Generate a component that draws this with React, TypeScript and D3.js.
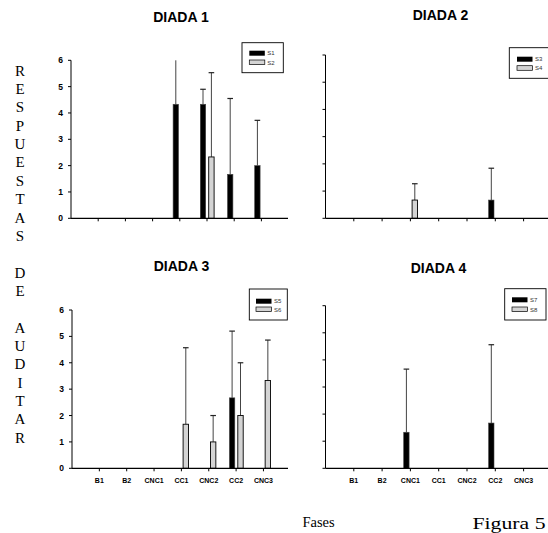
import React from "react";
import * as d3 from "d3";

const categories = ["B1", "B2", "CNC1", "CC1", "CNC2", "CC2", "CNC3"];
const yTicks = [0, 1, 2, 3, 4, 5, 6];

// Diada 1
const d1Black = [0, 0, 0, 4.33, 4.33, 1.67, 2.0];
const d1BlackErr = [0, 0, 0, 2.3, 0.57, 2.88, 1.72];
const d1Gray = [0, 0, 0, 0, 2.33, 0, 0];
const d1GrayErr = [0, 0, 0, 0, 3.2, 0, 0];
// Diada 2
const d2Black = [0, 0, 0, 0, 0, 0.67, 0];
const d2BlackErr = [0, 0, 0, 0, 0, 1.17, 0];
const d2Gray = [0, 0, 0.67, 0, 0, 0, 0];
const d2GrayErr = [0, 0, 0.6, 0, 0, 0, 0];
// Diada 3
const d3Black = [0, 0, 0, 0, 0, 2.67, 0];
const d3BlackErr = [0, 0, 0, 0, 0, 2.53, 0];
const d3Gray = [0, 0, 0, 1.67, 1.0, 2.0, 3.33];
const d3GrayErr = [0, 0, 0, 2.9, 1.0, 2.0, 1.53];
// Diada 4
const d4Black = [0, 0, 1.33, 0, 0, 1.67, 0];
const d4BlackErr = [0, 0, 2.33, 0, 0, 2.89, 0];
const d4Gray = [0, 0, 0, 0, 0, 0, 0];
const d4GrayErr = [0, 0, 0, 0, 0, 0, 0];

const titles = ["DIADA 1", "DIADA 2", "DIADA 3", "DIADA 4"];
const legendNames = [["S1", "S2"], ["S3", "S4"], ["S5", "S6"], ["S7", "S8"]];
const sideLabel = "RESPUESTAS DE AUDITAR";

const SANS = "'Liberation Sans', Arial, sans-serif";
const SERIF = "'Liberation Serif', 'Times New Roman', serif";

type Panel = {
  title: string;
  titleX: number;
  titleY: number;
  x0: number;
  x1: number;
  axisEnd: number;
  y0: number;
  y6: number;
  black: number[];
  blackErr: number[];
  gray: number[];
  grayErr: number[];
  yLabels: boolean;
  xLabels: boolean;
  legend: { x: number; y: number; w: number; h: number; sx: number; sy1: number; sy2: number };
  names: string[];
};

const panels: Panel[] = [
  {
    title: titles[0], titleX: 181, titleY: 21.5,
    x0: 71, x1: 71 + 8 * 27.2, axisEnd: 288, y0: 218.3, y6: 60.3,
    black: d1Black, blackErr: d1BlackErr, gray: d1Gray, grayErr: d1GrayErr,
    yLabels: true, xLabels: false,
    legend: { x: 242, y: 42.7, w: 41.3, h: 30, sx: 249.3, sy1: 50.7, sy2: 60 },
    names: legendNames[0],
  },
  {
    title: titles[1], titleX: 440.5, titleY: 20,
    x0: 325.5, x1: 325.5 + 8 * 28.3, axisEnd: 552, y0: 218.3, y6: 55,
    black: d2Black, blackErr: d2BlackErr, gray: d2Gray, grayErr: d2GrayErr,
    yLabels: false, xLabels: false,
    legend: { x: 509.3, y: 47.7, w: 45, h: 30.6, sx: 517, sy1: 56.7, sy2: 65.7 },
    names: legendNames[1],
  },
  {
    title: titles[2], titleX: 181.5, titleY: 271,
    x0: 72, x1: 72 + 8 * 27.35, axisEnd: 288, y0: 468.3, y6: 310,
    black: d3Black, blackErr: d3BlackErr, gray: d3Gray, grayErr: d3GrayErr,
    yLabels: true, xLabels: true,
    legend: { x: 249.3, y: 289, w: 38, h: 31, sx: 256, sy1: 298.7, sy2: 307 },
    names: legendNames[2],
  },
  {
    title: titles[3], titleX: 438.5, titleY: 272.5,
    x0: 325.5, x1: 325.5 + 8 * 28.3, axisEnd: 552, y0: 468.3, y6: 305.7,
    black: d4Black, blackErr: d4BlackErr, gray: d4Gray, grayErr: d4GrayErr,
    yLabels: false, xLabels: true,
    legend: { x: 504.7, y: 288.7, w: 41.3, h: 31.3, sx: 512, sy1: 297.3, sy2: 307 },
    names: legendNames[3],
  },
];

const BAR_W = 5.4;

function ChartPanel({ p }: { p: Panel }) {
  const x = d3.scaleLinear().domain([0, 8]).range([p.x0, p.x1]);
  const y = d3.scaleLinear().domain([0, 6]).range([p.y0, p.y6]);
  const idx = d3.range(categories.length);

  const errBar = (cx: number, v: number, e: number, key: string) => {
    if (v <= 0 && e <= 0) return null;
    const top = v + e;
    const clipped = top > 6;
    const yt = y(Math.min(top, 6));
    return (
      <g key={key}>
        <line x1={cx} x2={cx} y1={y(v)} y2={yt} stroke="#444" strokeWidth={1} />
        {!clipped && (
          <line x1={cx - 2.8} x2={cx + 2.8} y1={yt} y2={yt} stroke="#222" strokeWidth={1.2} />
        )}
      </g>
    );
  };

  return (
    <g>
      <text x={p.titleX} y={p.titleY} textAnchor="middle" fontFamily={SANS} fontWeight="bold" fontSize={14}>
        {p.title}
      </text>
      {idx.map((i) => {
        const t = x(i + 1);
        return (
          <g key={"e" + i}>
            {errBar(t - 6.7 + BAR_W / 2, p.black[i], p.blackErr[i], "eb" + i)}
            {errBar(t + 1.7 + BAR_W / 2, p.gray[i], p.grayErr[i], "eg" + i)}
          </g>
        );
      })}
      {idx.map((i) => {
        const t = x(i + 1);
        return (
          <g key={"b" + i}>
            {p.black[i] > 0 && (
              <rect x={t - 6.7} y={y(p.black[i])} width={BAR_W} height={y(0) - y(p.black[i])}
                fill="#000" stroke="#444" strokeWidth={0.6} />
            )}
            {p.gray[i] > 0 && (
              <rect x={t + 1.7} y={y(p.gray[i])} width={BAR_W} height={y(0) - y(p.gray[i])}
                fill="#d4d4d4" stroke="#000" strokeWidth={0.9} />
            )}
          </g>
        );
      })}
      <line x1={p.x0} x2={p.x0} y1={y(6)} y2={y(0)} stroke="#000" strokeWidth={1} />
      {yTicks.map((v) => (
        <g key={"yt" + v}>
          <line x1={p.x0 - 3} x2={p.x0} y1={y(v)} y2={y(v)} stroke="#000" strokeWidth={1} />
          {p.yLabels && (
            <text x={p.x0 - 8} y={y(v) + 3} textAnchor="end" fontFamily={SANS} fontWeight="bold" fontSize={8.5}>
              {v}
            </text>
          )}
        </g>
      ))}
      <line x1={p.x0} x2={p.axisEnd} y1={y(0)} y2={y(0)} stroke="#000" strokeWidth={1.2} />
      {idx.map((i) => (
        <g key={"xt" + i}>
          <line x1={x(i + 1)} x2={x(i + 1)} y1={y(0)} y2={y(0) + 3} stroke="#000" strokeWidth={1} />
          {p.xLabels && (
            <text x={x(i + 1)} y={y(0) + 15} textAnchor="middle" fontFamily={SANS} fontWeight="bold" fontSize={7}>
              {categories[i]}
            </text>
          )}
        </g>
      ))}
      <rect x={p.legend.x} y={p.legend.y} width={p.legend.w} height={p.legend.h} fill="#fff" stroke="#000" strokeWidth={0.9} />
      <rect x={p.legend.sx} y={p.legend.sy1} width={15.5} height={5} fill="#000" />
      <rect x={p.legend.sx} y={p.legend.sy2} width={15.5} height={4.6} fill="#d4d4d4" stroke="#000" strokeWidth={0.7} />
      <text x={p.legend.sx + 18} y={p.legend.sy1 + 4.6} fontFamily={SANS} fontSize={6} fill="#333">
        {p.names[0]}
      </text>
      <text x={p.legend.sx + 18} y={p.legend.sy2 + 4.6} fontFamily={SANS} fontSize={6} fill="#333">
        {p.names[1]}
      </text>
    </g>
  );
}

export default function App() {
  const letters = sideLabel.split("");
  return (
    <svg width={548} height={533} viewBox="0 0 548 533"
      style={{ position: "absolute", left: 0, top: 0, background: "#fff" }}>
      <rect x={0} y={0} width={548} height={533} fill="#fff" />
      {panels.map((p, k) => (
        <ChartPanel key={k} p={p} />
      ))}
      {letters.map((ch, i) =>
        ch === " " ? null : (
          <text key={"l" + i} x={20} y={70.7 + i * 18.35 + 5} textAnchor="middle" fontFamily={SERIF} fontSize={15}>
            {ch}
          </text>
        )
      )}
      <text x={318.5} y={527} textAnchor="middle" fontFamily={SERIF} fontSize={14.5}>
        Fases
      </text>
      <text x={472.5} y={528.5} fontFamily={SERIF} fontSize={17} textLength={73} lengthAdjust="spacingAndGlyphs">
        Figura 5
      </text>
    </svg>
  );
}
